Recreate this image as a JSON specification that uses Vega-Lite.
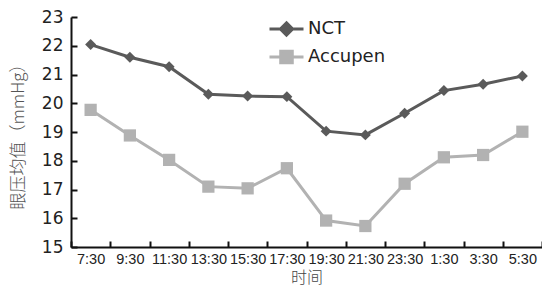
{
  "$schema": "https://vega.github.io/schema/vega-lite/v6.json",
  "width": 471,
  "height": 230,
  "autosize": {"type": "none"},
  "padding": {"left": 71, "top": 17, "right": 0, "bottom": 44},
  "background": "white",
  "config": {"view": {"stroke": null}, "font": "DejaVu Sans"},
  "data": {
    "values": [
      {"time": "7:30", "series": "NCT", "value": 22.04},
      {"time": "9:30", "series": "NCT", "value": 21.6},
      {"time": "11:30", "series": "NCT", "value": 21.27},
      {"time": "13:30", "series": "NCT", "value": 20.31},
      {"time": "15:30", "series": "NCT", "value": 20.25},
      {"time": "17:30", "series": "NCT", "value": 20.23},
      {"time": "19:30", "series": "NCT", "value": 19.03},
      {"time": "21:30", "series": "NCT", "value": 18.9},
      {"time": "23:30", "series": "NCT", "value": 19.65},
      {"time": "1:30", "series": "NCT", "value": 20.44},
      {"time": "3:30", "series": "NCT", "value": 20.66},
      {"time": "5:30", "series": "NCT", "value": 20.95},
      {"time": "7:30", "series": "Accupen", "value": 19.77},
      {"time": "9:30", "series": "Accupen", "value": 18.88},
      {"time": "11:30", "series": "Accupen", "value": 18.03},
      {"time": "13:30", "series": "Accupen", "value": 17.1},
      {"time": "15:30", "series": "Accupen", "value": 17.04},
      {"time": "17:30", "series": "Accupen", "value": 17.74},
      {"time": "19:30", "series": "Accupen", "value": 15.92},
      {"time": "21:30", "series": "Accupen", "value": 15.73},
      {"time": "23:30", "series": "Accupen", "value": 17.2},
      {"time": "1:30", "series": "Accupen", "value": 18.12},
      {"time": "3:30", "series": "Accupen", "value": 18.2},
      {"time": "5:30", "series": "Accupen", "value": 19.01}
    ]
  },
  "encoding": {
    "x": {
      "field": "time",
      "type": "ordinal",
      "sort": null,
      "bandPosition": 0.5,
      "scale": {"type": "band", "paddingInner": 0, "paddingOuter": 0},
      "axis": {
        "title": "时间",
        "titleFont": "Noto Sans CJK SC",
        "titleFontSize": 16,
        "titleFontWeight": 300,
        "titleColor": "#444",
        "titlePadding": 4,
        "labelAngle": 0,
        "labelFont": "Liberation Sans",
        "labelFontSize": 14.5,
        "labelColor": "#222",
        "labelPadding": 11,
        "domainColor": "#111",
        "domainWidth": 2,
        "tickColor": "#111",
        "tickWidth": 2,
        "tickSize": -6,
        "tickBand": "extent"
      }
    },
    "y": {
      "field": "value",
      "type": "quantitative",
      "scale": {"domain": [15, 23]},
      "axis": {
        "title": "眼压均值（mmHg）",
        "titleFont": "Noto Sans CJK SC",
        "titleFontSize": 17,
        "titleFontWeight": 300,
        "titleColor": "#555",
        "titlePadding": 14,
        "values": [15, 16, 17, 18, 19, 20, 21, 22, 23],
        "labelFont": "DejaVu Sans",
        "labelFontSize": 17,
        "labelColor": "#222",
        "labelPadding": 14,
        "grid": false,
        "domainColor": "#111",
        "domainWidth": 2,
        "tickColor": "#111",
        "tickWidth": 2,
        "tickSize": -6
      }
    }
  },
  "layer": [
    {
      "mark": {"type": "line", "strokeWidth": 3},
      "encoding": {
        "color": {
          "field": "series",
          "type": "nominal",
          "scale": {"domain": ["NCT", "Accupen"], "range": ["#5a5a5a", "#b2b2b2"]},
          "legend": {
            "title": null,
            "orient": "none",
            "legendX": 197,
            "legendY": 2,
            "labelFont": "DejaVu Sans",
            "labelFontSize": 18,
            "labelColor": "#222",
            "labelOffset": 3,
            "rowPadding": 8,
            "clipHeight": 20,
            "symbolSize": 1156,
            "symbolStrokeWidth": 3,
            "encode": {
              "symbols": {
                "update": {
                  "shape": {"signal": "datum.value === 'NCT' ? 'M-1,0H1M0,-0.36L0.36,0L0,0.36L-0.36,0Z' : 'M-1,0H1M-0.34,-0.34H0.34V0.34H-0.34Z'"},
                  "fill": {"signal": "datum.value === 'NCT' ? '#5a5a5a' : '#b2b2b2'"},
                  "fillOpacity": {"value": 1},
                  "strokeWidth": {"value": 3}
                }
              }
            }
          }
        }
      }
    },
    {
      "transform": [{"filter": "datum.series === 'NCT'"}],
      "mark": {"type": "point", "filled": true, "opacity": 1, "shape": "diamond", "size": 120, "color": "#5a5a5a"}
    },
    {
      "transform": [{"filter": "datum.series === 'Accupen'"}],
      "mark": {"type": "point", "filled": true, "opacity": 1, "shape": "square", "size": 150, "color": "#b2b2b2"}
    }
  ]
}
